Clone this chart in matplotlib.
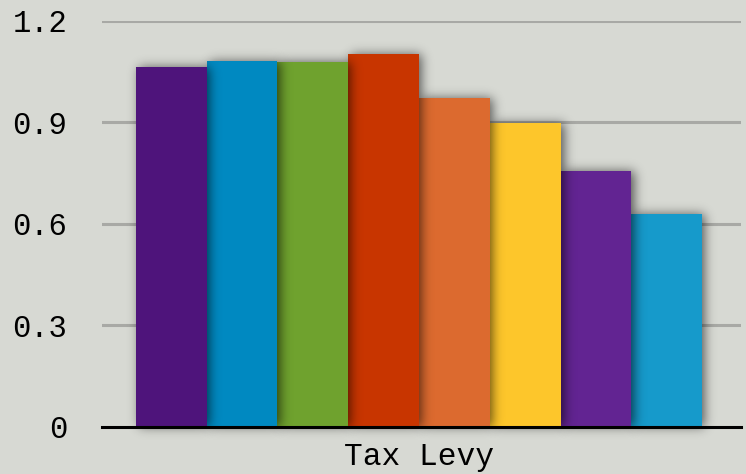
import math
import numpy as np
import matplotlib
matplotlib.use("Agg")
import matplotlib.pyplot as plt

# ---- data ----
category = "Tax Levy"
series_values = [1.063, 1.080, 1.078, 1.101, 0.971, 0.897, 0.756, 0.629]
series_colors = ["#4e147b", "#0089c1", "#6fa22e", "#c83500", "#dc6a2f",
                 "#fdc62b", "#622492", "#169acb"]
y_ticks = [0, 0.3, 0.6, 0.9, 1.2]
y_tick_labels = ["0", "0.3", "0.6", "0.9", "1.2"]

BG = "#d7d9d3"
W, H = 746, 474
fig = plt.figure(figsize=(W / 100, H / 100), dpi=100, facecolor=BG)
ax_l, ax_r, ax_b, ax_t = 102, 741, 427, 20.5
ax = fig.add_axes([ax_l / W, 1 - ax_b / H, (ax_r - ax_l) / W, (ax_b - ax_t) / H])
ax.set_facecolor(BG)

XLIM = (-0.448, 0.455)
YLIM = (0, 1.2)
pxx = (ax_r - ax_l) / (XLIM[1] - XLIM[0])
pxy = (ax_b - ax_t) / (YLIM[1] - YLIM[0])

n = len(series_values)
width = 0.8 / n
xs = [-0.4 + width * (i + 0.5) for i in range(n)]

erf = np.vectorize(math.erf)


def blur_profile(coords, a, b, s):
    r = s * math.sqrt(2)
    return 0.5 * (erf((coords - a) / r) - erf((coords - b) / r))


sigma = 5.5
offx, offy = 3.0, 0.0
pad = 22.0
for i, (x, v, c) in enumerate(zip(xs, series_values, series_colors)):
    z_bar = 20 - 2 * i
    ax.bar(x, v, width=width, color=c, zorder=z_bar, linewidth=0)
    x0p, x1p = (x - width / 2) * pxx, (x + width / 2) * pxx
    y0p, y1p = 0.0, v * pxy
    gx = np.arange(x0p - pad, x1p + pad + 1, 1.0)
    gy = np.arange(y0p - pad, y1p + pad + 1, 1.0)
    fx = blur_profile(gx, x0p + offx, x1p + offx, sigma)
    fy = blur_profile(gy, y0p - offy, y1p - offy, sigma)
    alpha = np.outer(fy[::-1], fx) * 0.6
    img = np.zeros(alpha.shape + (4,))
    img[..., 3] = alpha
    ext = [gx[0] / pxx, gx[-1] / pxx, gy[0] / pxy, gy[-1] / pxy]
    ax.imshow(img, extent=ext, aspect="auto", zorder=z_bar - 1,
              interpolation="bilinear", clip_on=False)

ax.set_xlim(XLIM)
ax.set_ylim(YLIM)
ax.set_aspect("auto")

for yv in y_ticks[1:]:
    ax.axhline(yv, color="#a8a9a5", linewidth=2.2, zorder=0.5)

for s in ["top", "right", "left"]:
    ax.spines[s].set_visible(False)
ax.spines["bottom"].set_color("black")
ax.spines["bottom"].set_linewidth(2.2)
ax.spines["bottom"].set_zorder(40)

font = "Liberation Mono"
ax.set_yticks(y_ticks)
ax.set_yticklabels(y_tick_labels, fontfamily=font, fontsize=22)
ax.set_xticks([0])
ax.set_xticklabels([category], fontfamily=font, fontsize=22.5)
ax.tick_params(axis="y", length=0, pad=25)
ax.tick_params(axis="x", length=0, pad=11)

fig.savefig("out.png", dpi=100, facecolor=BG)
